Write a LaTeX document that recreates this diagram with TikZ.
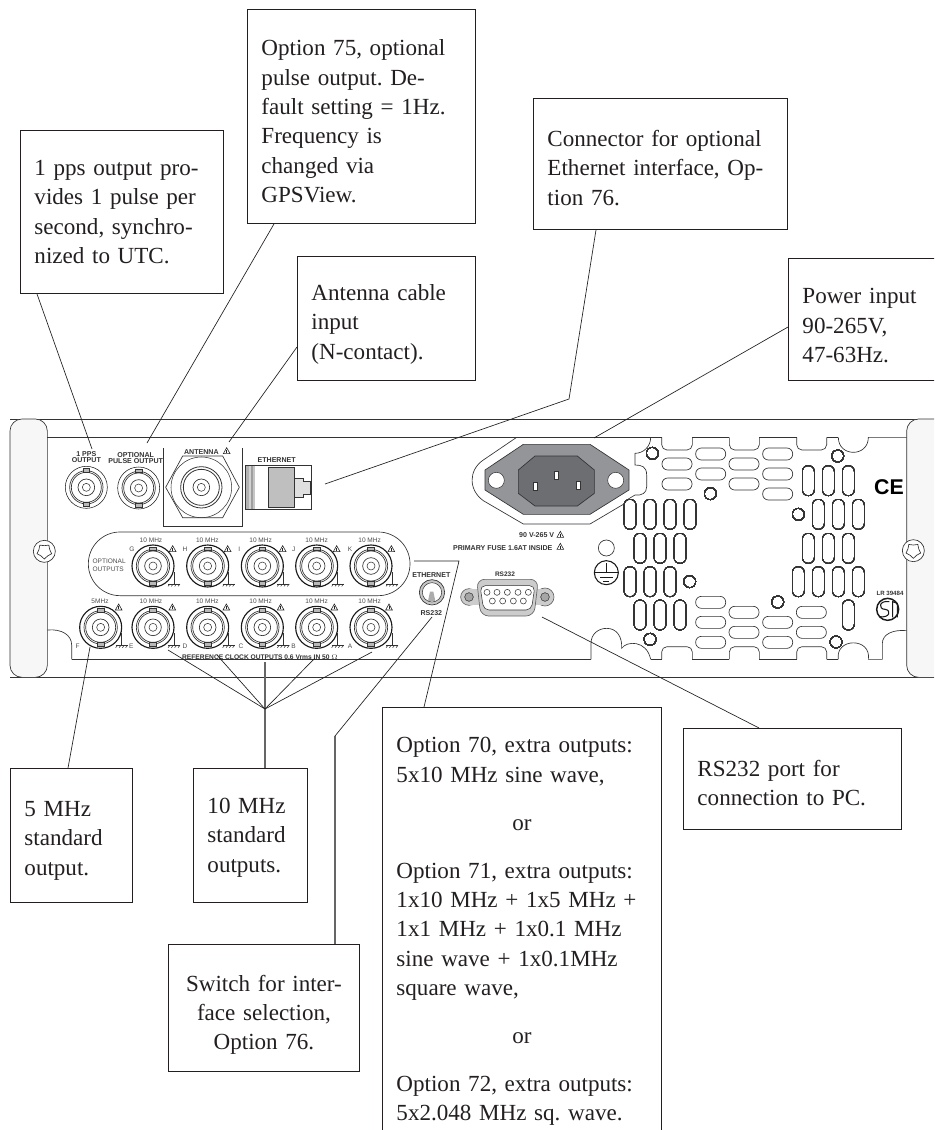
\documentclass[tikz,border=0pt]{standalone}
\usepackage{fontspec}
\setmainfont{Liberation Serif}
\setsansfont{Liberation Sans}
\usepackage{xcolor}
\usetikzlibrary{calc}
\definecolor{inkblack}{HTML}{231F20}
\definecolor{flangegray}{HTML}{939598}
\definecolor{socketgray}{HTML}{6D6E71}
\definecolor{handlefill}{HTML}{F7F7F7}
\tikzset{
  calloutbox/.style={draw=inkblack, line width=0.7pt, anchor=north west, align=left, inner xsep=10.5pt, inner ysep=0pt, text=inkblack, font=\fontsize{17.3}{22}\selectfont\frenchspacing},
  textdrop/.style={execute at begin node={\rule{0pt}{#1}}},
  leader/.style={draw=inkblack, line width=0.5pt},
  stemline/.style={draw=black!60, line width=0.9pt},
  panelline/.style={draw=black!80, line width=0.5pt},
  hairline/.style={draw=black!80, line width=0.4pt},
  boldtag/.style={font=\fontsize{5.3}{4.6}\selectfont\sffamily\bfseries, text=black!80, inner sep=0pt, align=center},
  thintag/.style={font=\fontsize{4.9}{6}\selectfont\sffamily, text=black!70, inner sep=0pt, align=left},
}
% one bnc socket, #1 = ring width
\newcommand{\bncport}[3]{
  \begin{scope}[shift={(#2,#3)}]
    \draw[draw=black!90, line width=#1, fill=white] (0,0) circle[radius=63];
    \draw[hairline, line width=0.5pt] (0,0) circle[radius=50];
    \draw[hairline, line width=0.5pt] (0,0) circle[radius=45];
    \draw[hairline, line width=0.5pt] (0,0) circle[radius=25];
    \draw[hairline] (0,0) circle[radius=12];
    \draw[hairline, fill=gray!55] (-10,-57) rectangle (10,-46);
    \draw[hairline, fill=gray!55] (-10,46) rectangle (10,57);
  \end{scope}
}
\newcommand{\warnmark}[2]{
  \draw[draw=black!85, line width=0.45pt, fill=white] (#1-10,#2+8) -- (#1+10,#2+8) -- (#1,#2-10) -- cycle;
  \draw[draw=black!85, line width=0.5pt] (#1,#2-3) -- (#1,#2+6);
}
\newcommand{\gndmark}[2]{
  \draw[hairline] (#1,#2-36) -- (#1,#2);
  \draw[hairline] (#1-18,#2) -- (#1+18,#2);
  \foreach \k in {0,1,2,3}
    \draw[hairline] (#1-12+\k*10,#2) -- (#1-18+\k*10,#2+7);
}
\newcommand{\hslot}[2]{\draw[panelline, rounded corners=4.3pt] (#1-45,#2-18) rectangle (#1+45,#2+18);}
\newcommand{\vslot}[2]{\draw[panelline, rounded corners=4.3pt] (#1-18,#2-45) rectangle (#1+18,#2+45);}
\newcommand{\screwhead}[2]{
  \begin{scope}[shift={(#1,#2)}]
    \draw[panelline, fill=white] (0,0) circle[radius=33];
    \draw[panelline] (18:23) -- (54:17) -- (90:23) -- (126:17) -- (162:23) -- (198:17) -- (234:23) -- (270:17) -- (306:23) -- (342:17) -- cycle;
  \end{scope}
}
\begin{document}
\begin{tikzpicture}[x=0.75pt, y=-0.75pt]
  \useasboundingbox (0,0) rectangle (934,1130);
  \clip (0,0) rectangle (934,1130);
  % left half of the rear panel
  \begin{scope}[shift={(0,400)}, x=0.25pt, y=-0.25pt]
    \draw[panelline] (30,57) -- (2802,57);
    \draw[panelline] (30,832) -- (2802,832);
    \draw[panelline, rounded corners=9pt, fill=handlefill] (30,57) rectangle (142,832);
    \screwhead{133}{454}
    % top connectors
    \bncport{0.4pt}{259}{262}
    \bncport{0.4pt}{416}{264}
    \node[boldtag] (pps label) at (259,172) {1 PPS\\OUTPUT};
    \node[boldtag] (pulse label) at (407,174) {OPTIONAL\\PULSE OUTPUT};
    % antenna
    \draw[panelline] (490,145) -- (490,380) -- (728,380) -- (728,145);
    \draw[panelline] (497,262) -- (548,168) -- (668,168) -- (718,262) -- (668,353) -- (548,353) -- cycle;
    \draw[hairline] (604,262) circle[radius=91];
    \draw[hairline, line width=0.6pt] (604,262) circle[radius=62];
    \draw[hairline, line width=0.6pt] (604,262) circle[radius=54];
    \draw[hairline, line width=0.5pt] (604,262) circle[radius=25];
    \draw[hairline] (604,262) circle[radius=12];
    \node[boldtag] (antenna label) at (604,157) {ANTENNA};
    \warnmark{680}{153}
    % ethernet socket
    \fill[gray!60] (737,197) rectangle (746,328);
    \fill[gray!35] (746,197) rectangle (752,328);
    \fill[gray!75] (752,197) rectangle (758,328);
    \fill[gray!45] (758,197) rectangle (764,328);
    \draw[hairline, line width=0.6pt] (737,197) rectangle (935,328);
    \draw[hairline, fill=gray!25] (884,235) -- (910,235) -- (910,243) -- (932,243) -- (932,282) -- (910,282) -- (910,292) -- (884,292) -- cycle;
    \draw[hairline, fill=gray!50] (805,203) rectangle (884,322);
    \draw[draw=black!80, line width=0.7pt] (932,243) -- (932,282);
    \node[boldtag] (socket label) at (830,181) {ETHERNET};
    % optional outputs
    \draw[panelline, rounded corners=23.8pt] (265,396) rectangle (1230,587);
    \node[thintag, anchor=west] (optional label) at (277,496) {OPTIONAL\\OUTPUTS};
    \foreach \px/\lx/\fx/\tx/\nm in {459/396/453/518/G, 623/555/622/683/H, 787/718/782/848/I, 950/881/950/1010/J, 1113/1050/1109/1174/K}{
      \bncport{0.85pt}{\px}{498}
      \gndmark{\px+63}{552}
      \warnmark{\tx}{447}
      \node[thintag, align=center] (freq \nm) at (\fx,422) {10 MHz};
      \node[thintag] (tag \nm) at (\lx,447) {\nm};
    }
    % standard outputs
    \foreach \px/\lx/\fx/\tx/\ft/\nm in {302/233/300/356/5MHz/F, 459/394/453/517/10 MHz/E, 623/555/622/679/10 MHz/D, 787/723/782/842/10 MHz/C, 950/881/950/1003/10 MHz/B, 1113/1050/1109/1167/10 MHz/A}{
      \bncport{0.85pt}{\px}{682}
      \gndmark{\px+63}{736}
      \warnmark{\tx}{622}
      \node[thintag, align=center] (freq \nm) at (\fx,604) {\ft};
      \node[thintag] (tag \nm) at (\lx,740) {\nm};
    }
    \node[boldtag, font=\fontsize{5}{6}\selectfont\sffamily\bfseries] (reference label) at (780,771) {REFERENCE CLOCK OUTPUTS 0.6 Vrms IN 50 $\Omega$};
    % interface switch
    \node[boldtag] (switch top) at (1294,524) {ETHERNET};
    \node[boldtag] (switch bottom) at (1294,638) {RS232};
    \draw[draw=black!80, line width=0.5pt, fill=gray!45] (1296,577) circle[radius=38];
    \draw[hairline, fill=white] (1296,577) circle[radius=29];
    \fill[gray!65] (1284,603) -- (1306,603) -- (1300,575) -- (1290,575) -- cycle;
  \end{scope}
  % right half of the rear panel
  \begin{scope}[shift={(460,400)}, x=0.25pt, y=-0.25pt]
    \draw[panelline, rounded corners=9pt, fill=handlefill] (1340,57) rectangle (1600,832);
    \screwhead{1360}{452}
    % inner frame
    \draw[panelline] (-1238,112) -- (572,112);
    \draw[panelline] (-1165,778) -- (393,778);
    \draw[panelline] (-1238,690) .. controls (-1195,686) and (-1165,705) .. (-1165,735) -- (-1165,778);
    \draw[panelline] (170,112) -- (70,180) .. controls (25,210) and (25,270) .. (70,302) -- (190,372) -- (390,372) -- (495,310);
    \draw[panelline] (572,112) .. controls (572,140) and (550,160) .. (525,160) -- (525,195) .. controls (545,195) and (560,200) .. (560,225) -- (560,260) .. controls (560,280) and (545,287) .. (525,285) -- (505,297);
    \foreach \a/\b in {605/697, 808/898, 1010/1100}{
      \draw[panelline, rounded corners=4pt] (\a,112) -- (\a,150) -- (\b,150) -- (\b,112);
      \draw[panelline, rounded corners=4pt] (\a,778) -- (\a,740) -- (\b,740) -- (\b,778);
    }
    \foreach \a/\b in {572/605, 697/808, 898/1010, 1100/1135}{
      \draw[panelline] (\a,112) -- (\b,112);
      \draw[panelline] (\a,778) -- (\b,778);
    }
    \draw[panelline] (1135,112) .. controls (1135,172) and (1225,172) .. (1225,112) -- (1340,112);
    \draw[panelline] (1135,778) .. controls (1125,712) and (1235,712) .. (1225,778) -- (1267,778) -- (1267,730) .. controls (1267,702) and (1300,688) .. (1340,692);
    \draw[panelline] (393,778) -- (393,730) .. controls (393,702) and (415,685) .. (440,685) .. controls (470,685) and (487,710) .. (485,745) .. controls (500,722) and (560,720) .. (572,778);
    % slots
    \foreach \sx/\sy in {651/192, 651/252, 752/162, 752/222, 852/192, 852/252, 953/162, 953/222, 953/282, 752/607, 752/667, 752/727, 852/637, 852/697, 953/667, 953/727, 1054/637, 1054/697}
      \hslot{\sx}{\sy}
    \foreach \sx/\sy in {1045/242, 1105/242, 1165/242, 1075/343, 1135/343, 1195/343, 1045/445, 1105/445, 1165/445, 1015/545, 1075/545, 1135/545, 1195/545, 1165/645, 510/343, 570/343, 630/343, 690/343, 540/445, 600/445, 660/445, 510/545, 570/545, 630/545, 540/645, 600/645, 660/645}
      \vslot{\sx}{\sy}
    \foreach \sx/\sy in {577/160, 1133/168, 751/281, 1015/343, 689/545, 953/606, 570/718, 1128/726}
      \draw[panelline] (\sx,\sy) circle[radius=18];
    % mains inlet
    \draw[draw=black!80, line width=0.5pt, fill=flangegray] (75,210) -- (190,133) -- (390,133) -- (507,210) -- (507,270) -- (390,343) -- (190,343) -- (75,270) -- cycle;
    \draw[draw=black!80, line width=0.5pt, fill=socketgray] (175,210) -- (225,168) -- (352,168) -- (403,210) -- (403,280) -- (352,318) -- (225,318) -- (175,280) -- cycle;
    \draw[hairline, fill=white] (109,241) circle[radius=24];
    \draw[hairline, fill=white] (467,241) circle[radius=24];
    \draw[hairline, fill=white] (283,213) rectangle (295,239);
    \draw[hairline, fill=white] (220,246) rectangle (232,270);
    \draw[hairline, fill=white] (348,245) rectangle (360,269);
    \node[boldtag] (voltage label) at (230,404) {90 V-265 V};
    \warnmark{301}{404}
    \node[boldtag, anchor=east] (fuse label) at (278,445) {PRIMARY FUSE 1.6AT INSIDE};
    \warnmark{301}{440}
    % earth terminal
    \draw[panelline] (439,444) circle[radius=24];
    \draw[draw=black!90, line width=0.8pt] (439,518) circle[radius=36];
    \draw[draw=black!90, line width=0.6pt] (439,490) -- (439,518) (405,518) -- (473,518) (420,532) -- (458,532) (430,545) -- (448,545);
    % serial port
    \node[boldtag, font=\fontsize{4.9}{6}\selectfont\sffamily\bfseries] (serial label) at (135,523) {RS232};
    \draw[draw=black!60, line width=0.5pt, fill=gray!40] (27,591) circle[radius=25];
    \draw[draw=black!60, line width=0.5pt, fill=gray!40] (255,591) circle[radius=27];
    \fill[gray!40] (27,568) rectangle (255,614);
    \draw[draw=black!60, line width=0.5pt, fill=gray!40, rounded corners=6pt] (50,538) -- (235,538) -- (222,648) -- (62,648) -- cycle;
    \draw[hairline, fill=white, rounded corners=4pt] (60,557) -- (225,557) -- (214,630) -- (71,630) -- cycle;
    \draw[hairline, fill=gray!70] (27,591) circle[radius=13];
    \draw[hairline, fill=gray!70] (255,591) circle[radius=13];
    \foreach \sx in {81,111,142,174,205}
      \draw[hairline] (\sx,577) circle[radius=9];
    \foreach \sx in {97,128,160,190}
      \draw[hairline] (\sx,603) circle[radius=9];
    % approval marks
    \node[font=\fontsize{16}{16}\selectfont\sffamily\bfseries, text=black, inner sep=0pt] (ce mark) at (1287,262) {CE};
    \node[boldtag, font=\fontsize{4.6}{6}\selectfont\sffamily\bfseries] (lr label) at (1290,580) {LR 39484};
    \draw[draw=black!90, line width=1.1pt, fill=white] (1283,628) circle[radius=33];
    \draw[draw=black!90, line width=0.8pt] (1288,605) .. controls (1255,600) and (1255,628) .. (1275,628) .. controls (1295,630) and (1290,655) .. (1258,650);
    \draw[draw=black!90, line width=0.8pt] (1298,652) -- (1298,605) -- (1312,610) -- (1312,652);
  \end{scope}
  % callouts
  \node[calloutbox, minimum width=152.25pt, minimum height=122.25pt, text width=131.25pt] (pps box) at (20,130) {1 pps output pro-\\vides 1 pulse per\\second, synchro-\\nized to UTC.};
  \node[calloutbox, textdrop=19.3pt, minimum width=171pt, minimum height=160.5pt, text width=150pt] (pulse box) at (247,9) {Option 75, optional\\pulse output. De-\\fault setting = 1Hz.\\Frequency is\\changed via\\GPSView.};
  \node[calloutbox, textdrop=20.8pt, minimum width=133.5pt, minimum height=93pt, text width=112.5pt] (antenna box) at (297,256) {Antenna cable\\input\\(N-contact).};
  \node[calloutbox, textdrop=17.8pt, minimum width=190.5pt, minimum height=98.25pt, text width=169.5pt] (ethernet box) at (533,98) {\makebox[167.25pt][s]{Connector for optional}\\\makebox[165pt][s]{Ethernet interface, Op-}\\tion 76.};
  \node[calloutbox, textdrop=20.8pt, minimum width=129pt, minimum height=91.5pt, text width=108pt] (power box) at (788,258) {Power input\\90-265V,\\47-63Hz.};
  \node[calloutbox, textdrop=19.3pt, minimum width=91.5pt, minimum height=100.5pt, text width=70.5pt] (five box) at (10,768) {5 MHz\\standard\\output.};
  \node[calloutbox, textdrop=14.8pt, minimum width=85.5pt, minimum height=100.5pt, text width=64.5pt] (ten box) at (193,768) {10 MHz\\standard\\outputs.};
  \node[calloutbox, textdrop=22.3pt, align=center, minimum width=143.25pt, minimum height=95.25pt, text width=122.25pt] (switch box) at (168,944) {Switch for inter-\\face selection,\\Option 76.};
  \node[calloutbox, minimum width=209.25pt, minimum height=336pt, text width=188.25pt] (options box) at (382,707) {Option 70, extra outputs:\\5x10 MHz sine wave,\\[14pt]\makebox[\linewidth]{or}\\[14pt]Option 71, extra outputs:\\1x10 MHz + 1x5 MHz +\\1x1 MHz + 1x0.1 MHz\\sine wave + 1x0.1MHz\\square wave,\\[14pt]\makebox[\linewidth]{or}\\[14pt]Option 72, extra outputs:\\5x2.048 MHz sq. wave.};
  \node[calloutbox, textdrop=17.8pt, minimum width=163.5pt, minimum height=75.75pt, text width=142.5pt] (serial box) at (683,728) {RS232 port for\\connection to PC.};
  % leaders
  \coordinate (pps tip) at (92,449);
  \coordinate (pulse tip) at (147,443);
  \coordinate (antenna tip) at (229,442);
  \coordinate (ethernet bend) at (569,399);
  \coordinate (ethernet tip) at (325,484);
  \coordinate (power tip) at (594,438);
  \coordinate (five tip) at (90,647);
  \coordinate (fan hub) at (265,709);
  \coordinate (switch bend) at (335,736);
  \coordinate (switch tip) at (432,617);
  \coordinate (options bend) at (459,561);
  \coordinate (options tip) at (414,561);
  \coordinate (serial tip) at (542,617);
  \draw[leader] (37,0 |- pps box.south) -- (pps tip);
  \draw[leader] (274,0 |- pulse box.south) -- (pulse tip);
  \draw[leader] (antenna box.west |- 0,347) -- (antenna tip);
  \draw[leader] (596,0 |- ethernet box.south) -- (ethernet bend) -- (ethernet tip);
  \draw[leader] (power box.west |- 0,327) -- (power tip);
  \draw[leader] (68,0 |- five box.north) -- (five tip);
  \draw[stemline] (265,0 |- ten box.north) -- (fan hub) -- (265,662);
  \foreach \tx/\ty in {168/650, 217/655, 315/658, 372/652}
    \draw[leader] (fan hub) -- (\tx,\ty);
  \draw[stemline] (335,0 |- switch box.north) -- (switch bend);
  \draw[leader] (switch bend) -- (switch tip);
  \draw[leader] (424,0 |- options box.north) -- (options bend) -- (options tip);
  \draw[leader] (759,0 |- serial box.north) -- (serial tip);
\end{tikzpicture}
\end{document}
